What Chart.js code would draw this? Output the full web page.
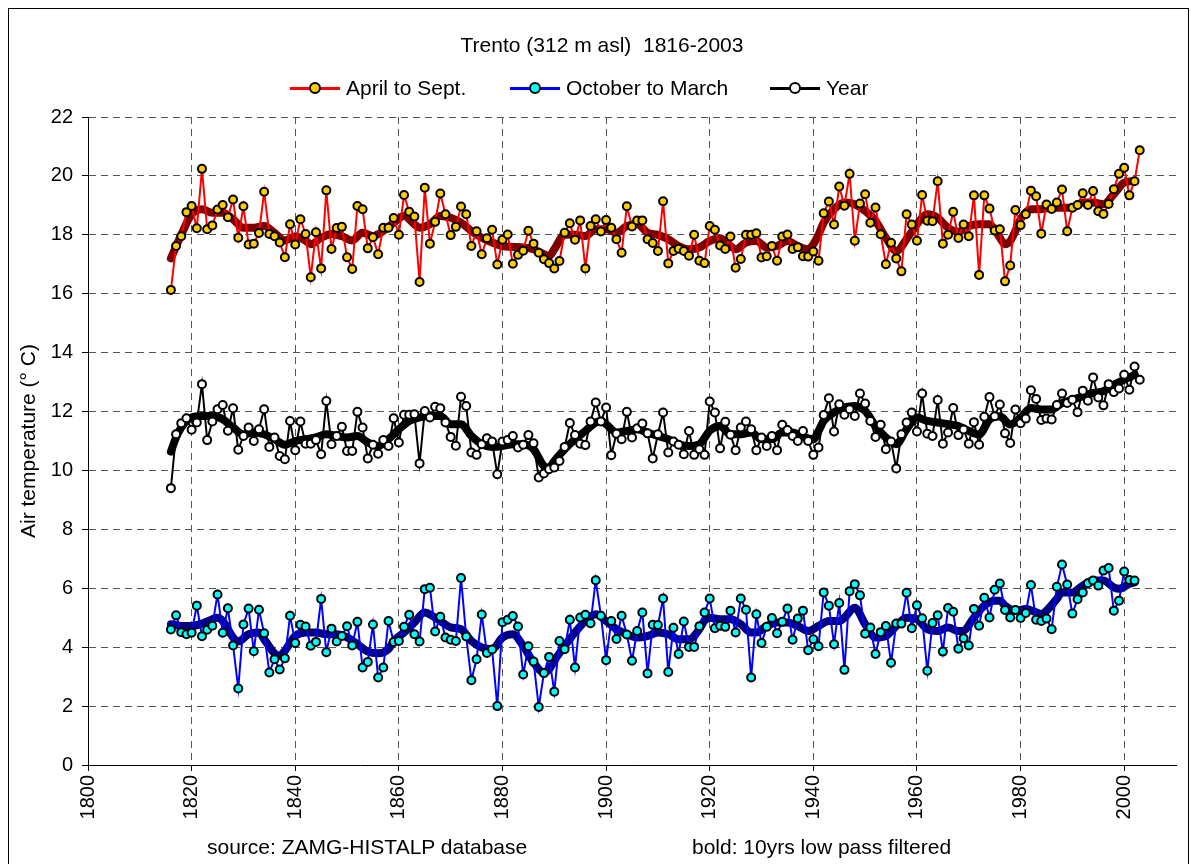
<!DOCTYPE html>
<html>
<head>
<meta charset="utf-8">
<script src="https://cdn.jsdelivr.net/npm/chart.js@4.4.0/dist/chart.umd.min.js"></script>
<style>
  body { margin: 0; background: #fff; font-family: "Liberation Sans", Arial, sans-serif; }
  #wrap { position: relative; width: 1191px; height: 864px; overflow: hidden; }
  #frame { position: absolute; left: 8px; top: 8px; width: 1179px; height: 900px; border: 1px solid #000; }
  #mychart { position: absolute; left: 0; top: 0; }
  .txt { position: absolute; font-size: 21px; color: #000; white-space: nowrap; line-height: 24px; }
  .lg { position: absolute; top: 76px; height: 24px; display: flex; align-items: center; font-size: 21px; white-space: nowrap; }
  .ln { width: 50px; height: 3px; position: relative; margin-right: 6px; }
  .mk { position: absolute; left: 19px; top: -5px; width: 8px; height: 8px; border: 2px solid #000; border-radius: 50%; }
</style>
</head>
<body>
<div id="wrap">
  <canvas id="mychart" width="1191" height="864"></canvas>
  <div id="frame"></div>
  <div class="txt" style="left:0;width:1204px;text-align:center;top:33px;">Trento (312 m asl)&nbsp;&nbsp;1816-2003</div>
  <div class="lg" style="left:290px;"><span class="ln" style="background:#ff0000"><span class="mk" style="background:#ffcc00"></span></span>April to Sept.</div>
  <div class="lg" style="left:510px;"><span class="ln" style="background:#0000ff"><span class="mk" style="background:#00ffff"></span></span>October to March</div>
  <div class="lg" style="left:770px;"><span class="ln" style="background:#000"><span class="mk" style="background:#fff"></span></span>Year</div>
  <div class="txt" style="left:207px;top:835px;">source: ZAMG-HISTALP database</div>
  <div class="txt" style="left:692px;top:835px;">bold: 10yrs low pass filtered</div>
</div>
<script>
// annual values 1816-2003
const firstYear = 1816;
const summer = [16.13,17.62,17.95,18.77,18.98,18.22,20.24,18.19,18.32,18.86,19.01,18.6,19.2,17.9,18.97,17.67,17.7,18.06,19.46,18.03,
  17.95,17.74,17.24,18.36,17.67,18.53,18.03,16.56,18.09,16.86,19.51,17.52,18.23,18.27,17.24,16.84,18.98,18.87,17.54,17.92,
  17.34,18.24,18.24,18.57,18.0,19.35,18.78,18.62,16.4,19.6,17.7,18.44,19.4,18.7,17.99,18.27,18.96,18.7,17.62,18.12,
  17.34,17.88,18.17,16.99,17.83,18.01,17.02,17.32,17.46,18.14,17.7,17.39,17.17,17.04,16.86,17.11,18.07,18.39,17.83,18.49,
  16.86,18.3,18.53,18.11,18.5,18.24,17.85,17.39,18.97,18.28,18.49,18.49,17.85,17.72,17.45,19.14,17.03,17.45,17.53,17.45,
  17.29,18.0,17.12,17.04,18.3,18.17,17.64,17.52,17.94,16.88,17.18,18.0,18.0,18.05,17.23,17.27,17.62,17.12,17.94,18.01,
  17.52,17.58,17.27,17.26,17.43,17.12,18.73,19.13,18.35,19.64,18.99,20.07,17.8,19.06,19.38,18.41,18.93,18.02,17.0,17.73,
  17.2,16.76,18.7,18.35,17.8,19.35,18.48,18.46,19.82,17.7,18.0,18.78,17.89,18.35,17.95,19.34,16.64,19.34,18.89,18.15,
  18.19,16.42,16.96,18.84,18.33,18.7,19.5,19.31,18.04,19.03,18.88,19.1,19.54,18.12,18.92,19.01,19.41,19.01,19.49,18.8,
  18.71,19.05,19.55,20.07,20.28,19.34,19.82,20.87];
const winter = [4.6,5.08,4.51,4.44,4.49,5.41,4.37,4.59,4.73,5.79,4.49,5.32,4.06,2.6,4.77,5.31,3.86,5.27,4.47,3.14,
  3.59,3.24,3.62,5.07,4.14,4.76,4.7,4.05,4.18,5.64,3.83,4.63,4.19,4.38,4.71,4.06,4.86,3.31,3.5,4.77,
  2.97,3.31,4.89,4.18,4.21,4.69,5.1,4.44,4.19,5.97,6.02,4.53,5.03,4.33,4.25,4.21,6.35,4.36,2.88,3.59,
  5.11,3.8,3.92,2.0,4.85,4.93,5.06,4.7,3.07,4.03,3.51,1.97,3.12,3.67,2.49,4.21,3.93,4.93,3.31,5.01,
  5.1,4.81,6.27,5.07,3.56,4.89,4.28,5.07,4.43,3.54,4.55,5.18,3.11,4.76,4.75,5.65,3.16,4.66,3.77,4.87,
  4.01,4.01,4.71,5.18,5.65,4.64,4.73,4.69,5.24,4.5,5.65,5.27,2.97,5.12,4.14,4.69,4.99,4.47,4.86,5.31,
  4.25,4.97,5.24,3.9,4.27,4.03,5.86,5.41,4.1,5.5,3.23,5.9,6.14,5.76,4.46,4.67,3.77,4.51,4.72,3.47,
  4.8,4.8,5.85,4.64,5.42,4.98,3.2,4.82,5.08,3.85,5.33,5.2,3.95,4.3,4.06,5.3,4.73,5.68,5.01,5.95,
  6.16,5.26,5.01,5.26,4.99,5.16,6.11,4.93,4.89,4.97,4.61,6.05,6.81,6.13,5.14,5.63,5.86,6.17,6.26,6.09,
  6.6,6.69,5.24,5.58,6.57,6.28,6.26,null];
const annual = [9.4,11.23,11.6,11.77,11.38,11.63,12.93,11.03,11.66,12.08,12.22,11.35,12.11,10.7,11.17,11.46,11.0,11.4,12.08,10.8,
  11.12,10.49,10.38,11.68,10.69,11.66,10.91,10.91,11.03,10.55,12.36,10.89,11.17,11.48,10.66,10.66,11.99,11.46,10.41,10.87,
  10.57,11.03,10.83,11.77,10.95,11.89,11.89,11.91,10.24,12.02,11.8,12.16,12.11,11.63,11.14,10.84,12.5,12.19,10.61,10.53,
  10.89,11.09,10.98,9.87,10.98,11.03,11.17,10.78,10.87,11.2,10.92,9.76,9.9,10.04,10.1,10.32,10.8,11.61,11.2,10.91,
  10.86,11.66,12.31,11.66,12.14,10.52,11.25,11.06,11.99,11.12,11.43,11.59,11.26,10.41,11.23,11.97,10.61,10.98,10.87,10.55,
  11.34,10.53,10.72,10.53,12.34,11.97,10.75,11.65,11.21,10.69,11.46,11.66,11.4,10.69,11.12,10.83,11.17,10.69,11.55,11.37,
  11.17,11.0,11.34,11.0,10.53,10.78,11.88,12.45,11.32,12.25,11.89,12.08,11.85,12.61,12.27,11.68,11.14,11.55,10.72,10.98,
  10.07,11.23,11.63,11.97,11.32,12.61,11.25,11.17,12.39,10.91,11.29,12.12,11.2,11.39,10.91,11.64,10.87,11.82,12.49,11.84,
  12.24,11.26,10.93,12.07,11.6,11.76,12.72,12.43,11.71,11.76,11.73,12.22,12.61,12.29,12.4,11.98,12.71,12.37,13.16,12.48,
  12.21,12.93,12.66,12.78,13.25,12.74,13.53,13.08];

// 10 yrs low pass filtered curves, read at selected years
const smoothSummerYears = [1816,1818,1820,1822,1824,1826,1828,1830,1832,1834,1836,1838,1840,1842,1843,1845,1847,1849,1851,1853,
  1855,1857,1859,1861,1863,1864,1866,1868,1870,1872,1874,1876,1878,1880,1882,1884,1886,1888,1889,1890,
  1892,1894,1896,1898,1900,1902,1904,1906,1908,1910,1912,1914,1916,1918,1920,1922,1924,1925,1927,1929,
  1931,1933,1935,1937,1939,1940,1941,1942,1944,1946,1948,1950,1952,1954,1956,1958,1960,1962,1964,1966,
  1968,1970,1972,1974,1975,1976,1977,1978,1979,1980,1982,1984,1986,1988,1990,1992,1994,1996,1998,2000,2002];
const smoothSummer = [17.2,18.0,18.7,18.87,18.75,18.75,18.53,18.24,18.24,18.3,18.07,17.81,17.95,17.8,17.68,17.9,18.03,17.95,17.81,18.07,
  17.96,18.13,18.41,18.64,18.36,18.24,18.36,18.64,18.58,18.41,18.13,17.9,17.74,17.62,17.59,17.57,17.51,17.34,17.28,17.51,
  18.0,18.0,17.96,18.19,18.19,18.07,18.3,18.36,18.07,18.0,17.85,17.62,17.51,17.57,17.79,17.88,17.62,17.51,17.74,17.79,
  17.57,17.62,17.79,17.62,17.51,17.68,18.0,18.41,18.87,19.1,19.04,18.81,18.47,17.9,17.45,17.85,18.36,18.7,18.58,18.24,
  18.1,18.3,18.36,18.36,18.19,17.9,17.68,17.79,18.13,18.53,18.87,18.87,18.92,18.92,18.92,19.1,19.1,19.04,19.38,19.77,19.83];

const smoothWinterYears = [1816,1818,1820,1822,1824,1825,1826,1828,1829,1831,1833,1834,1836,1837,1838,1840,1842,1844,1846,1848,
  1850,1852,1854,1856,1858,1859,1861,1863,1865,1867,1868,1870,1872,1874,1876,1878,1880,1882,1884,1886,
  1888,1889,1890,1892,1894,1896,1898,1900,1902,1904,1906,1908,1910,1912,1914,1916,1918,1919,1920,1922,
  1924,1926,1928,1929,1931,1933,1935,1937,1939,1941,1943,1945,1946,1948,1950,1952,1954,1956,1958,1960,
  1962,1964,1966,1968,1969,1971,1973,1975,1976,1977,1979,1981,1983,1984,1985,1987,1988,1990,1992,1994,
  1996,1998,1999,2001,2002];
const smoothWinter = [4.78,4.72,4.72,4.8,4.95,5.0,4.89,4.33,4.19,4.44,4.5,4.27,3.79,3.71,3.88,4.38,4.5,4.5,4.44,4.44,
  4.33,4.1,3.85,3.79,3.93,4.2,4.5,4.84,5.18,5.0,4.89,4.67,4.61,4.21,3.99,3.93,4.33,4.44,4.04,3.48,
  3.14,3.25,3.54,4.04,4.5,4.89,5.12,4.89,4.61,4.44,4.33,4.38,4.5,4.44,4.27,4.27,4.61,4.9,5.0,4.95,
  4.95,4.78,4.5,4.5,4.72,4.84,4.84,4.72,4.55,4.72,4.89,4.89,5.0,5.34,4.78,4.33,4.38,4.72,5.0,4.95,
  4.61,4.55,4.67,4.55,4.56,5.01,5.41,5.58,5.58,5.41,5.24,5.3,5.18,5.13,5.24,5.64,5.86,5.86,6.09,6.26,
  6.26,6.03,5.98,6.15,6.2];

const smoothAnnualYears = [1816,1817,1818,1820,1822,1824,1826,1828,1830,1832,1834,1836,1838,1840,1842,1844,1846,1848,1850,1852,
  1854,1856,1858,1860,1862,1864,1866,1868,1870,1872,1874,1876,1878,1880,1882,1884,1886,1888,1889,1890,
  1892,1894,1896,1898,1899,1900,1902,1904,1906,1908,1910,1912,1914,1916,1918,1919,1920,1922,1924,1926,
  1928,1930,1932,1934,1936,1938,1940,1941,1942,1944,1946,1948,1950,1952,1954,1956,1958,1960,1962,1964,
  1966,1968,1970,1972,1974,1976,1978,1980,1982,1984,1986,1988,1990,1992,1994,1996,1998,2000,2002];
const smoothAnnual = [10.64,11.12,11.46,11.8,11.85,11.85,11.74,11.46,11.23,11.29,11.23,11.06,10.87,11.0,11.06,11.12,11.23,11.17,11.12,11.17,
  10.95,10.83,11.06,11.4,11.68,11.8,11.85,11.85,11.57,11.57,11.17,10.89,10.8,10.83,10.89,10.89,10.72,10.15,10.1,10.32,
  10.72,11.06,11.34,11.63,11.68,11.57,11.29,11.34,11.4,11.29,11.17,11.06,10.89,10.83,10.89,11.1,11.35,11.51,11.23,11.23,
  11.29,11.06,11.06,11.29,11.29,11.14,11.06,11.34,11.68,11.97,12.14,12.19,12.02,11.51,11.12,10.89,11.4,11.8,11.68,11.63,
  11.57,11.51,11.34,11.22,11.73,11.84,11.56,11.79,12.12,12.07,12.07,12.29,12.4,12.52,12.63,12.69,12.91,13.08,13.25];

const xTicks = [1800,1820,1840,1860,1880,1900,1920,1940,1960,1980,2000];

const font = "'Liberation Sans', Arial, sans-serif";
const pts = arr => arr.map((v, i) => ({x: firstYear + i, y: v}));
const pairs = (xs, ys) => xs.map((x, i) => ({x: x, y: ys[i]}));

function raw(data, line, fill) {
  return {data: data, borderColor: line, borderWidth: 2, pointRadius: 4, pointBorderWidth: 2,
    pointBorderColor: '#000', pointBackgroundColor: fill, tension: 0, spanGaps: false, order: 0};
}
function smooth(data, color) {
  return {data: data, borderColor: color, borderWidth: 8, pointRadius: 0, cubicInterpolationMode: 'monotone',
    borderCapStyle: 'round', borderJoinStyle: 'round', order: 1};
}

new Chart(document.getElementById("mychart"), {
  type: 'line',
  data: {
    datasets: [
      raw(pts(summer), '#ff0000', '#ffcc00'),
      raw(pts(winter), '#0000ff', '#00ffff'),
      raw(pts(annual), '#000000', '#ffffff'),
      smooth(pairs(smoothSummerYears, smoothSummer), '#800000'),
      smooth(pairs(smoothWinterYears, smoothWinter), '#000080'),
      smooth(pairs(smoothAnnualYears, smoothAnnual), '#000000')
    ]
  },
  options: {
    responsive: false,
    animation: false,
    layout: {padding: {top: 117, right: 15, left: 0, bottom: 0}},
    plugins: {legend: {display: false}, title: {display: false}, tooltip: {enabled: false}},
    scales: {
      x: {
        type: 'linear', min: 1800, max: 2010,
        afterBuildTicks: axis => { axis.ticks = xTicks.map(v => ({value: v})); },
        afterFit: axis => { axis.height = 99; },
        ticks: {minRotation: 90, maxRotation: 90, padding: 4, color: '#000', font: {family: font, size: 20},
          callback: v => String(v)},
        grid: {color: '#555', lineWidth: 1, tickColor: '#000', tickLength: 6},
        border: {display: true, color: '#000', width: 1, dash: [7, 5]}
      },
      y: {
        min: 0, max: 22,
        afterFit: axis => { axis.width = 88; },
        ticks: {stepSize: 2, padding: 9, color: '#000', font: {family: font, size: 20}},
        grid: {color: '#555', lineWidth: 1, tickColor: '#000', tickLength: 6},
        border: {display: true, color: '#000', width: 1, dash: [7, 5]},
        title: {display: true, text: 'Air temperature (° C)', color: '#000',
          font: {family: font, size: 21}, padding: {top: 17, bottom: 0}}
      }
    }
  }
});
</script>
</body>
</html>
